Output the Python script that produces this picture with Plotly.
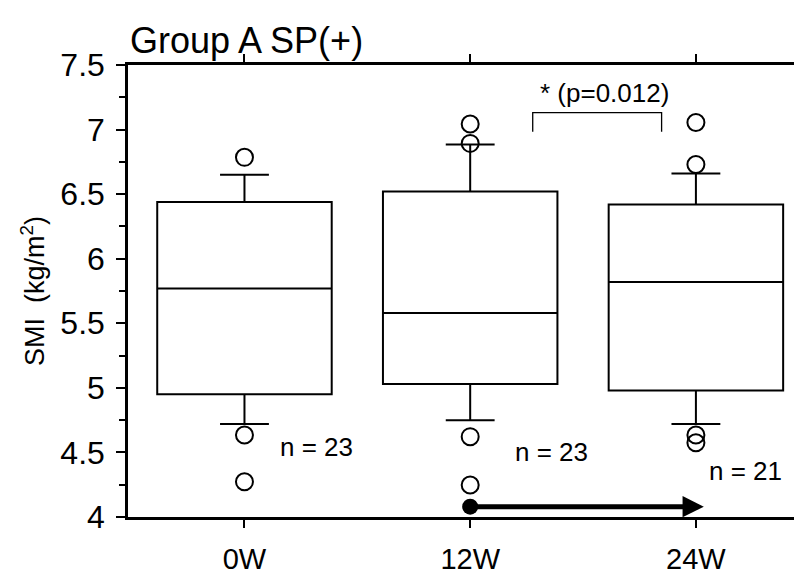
import plotly.graph_objects as go

categories = ["0W", "12W", "24W"]
q1 = [4.95, 5.03, 4.98]
median = [5.77, 5.58, 5.82]
q3 = [6.44, 6.52, 6.42]
lower_whisker = [4.72, 4.75, 4.72]
upper_whisker = [6.65, 6.885, 6.66]
outliers = {
    "0W": [6.785, 4.635, 4.273],
    "12W": [7.043, 6.893, 4.622, 4.248],
    "24W": [7.055, 6.73, 4.635, 4.575],
}
n_labels = ["n = 23", "n = 23", "n = 21"]
n_label_y = [4.54, 4.50, 4.36]
arrow_from, arrow_to, arrow_level = "12W", "24W", 4.08
sig_text = "* (p=0.012)"

FONT = "Liberation Sans, Arial, sans-serif"
xpos = {c: i for i, c in enumerate(categories)}

# page body has an 8px default margin; size the figure to fit the window
W, H = 794, 572

fig = go.Figure()
fig.add_trace(go.Box(
    x=[xpos[c] for c in categories],
    q1=q1, median=median, q3=q3,
    lowerfence=lower_whisker, upperfence=upper_whisker,
    width=0.773, whiskerwidth=0.28,
    fillcolor="white", line=dict(color="black", width=2),
    boxpoints=False, showlegend=False, hoverinfo="skip",
))
ox, oy = [], []
for c in categories:
    for v in outliers[c]:
        ox.append(xpos[c]); oy.append(v)
fig.add_trace(go.Scatter(
    x=ox, y=oy, mode="markers",
    marker=dict(symbol="circle-open", size=17, color="black", line=dict(width=2)),
    showlegend=False, hoverinfo="skip",
))
fig.add_trace(go.Scatter(
    x=[xpos[arrow_from]], y=[arrow_level], mode="markers",
    marker=dict(symbol="circle", size=16, color="black"),
    showlegend=False, hoverinfo="skip",
))

annotations = []
offsets = [0.32, 0.36, 0.22]
for i, c in enumerate(categories):
    annotations.append(dict(x=xpos[c] + offsets[i], y=n_label_y[i], text=n_labels[i],
                            showarrow=False, xref="x", yref="y",
                            font=dict(size=26, color="black", family=FONT)))
annotations.append(dict(x=xpos[arrow_to] + 0.035, y=arrow_level, ax=xpos[arrow_from], ay=arrow_level,
                        xref="x", yref="y", axref="x", ayref="y", showarrow=True,
                        arrowhead=2, arrowsize=0.85, arrowwidth=5, arrowcolor="black", text=" ",
                        font=dict(size=10)))
annotations.append(dict(x=1.595, y=7.28, text=sig_text, showarrow=False, xref="x", yref="y",
                        font=dict(size=26, color="black", family=FONT)))

fig.add_shape(type="path", path="M 1.277 6.984 L 1.277 7.131 L 1.848 7.131 L 1.848 6.984",
              xref="x", yref="y", line=dict(color="black", width=1.3))

fig.update_layout(
    width=W, height=H,
    margin=dict(l=120, r=0, t=57, b=63, autoexpand=False),
    paper_bgcolor="white", plot_bgcolor="white",
    font=dict(family=FONT, color="black"),
    title=dict(text="Group A SP(+)", x=122/W, xanchor="left", xref="container",
               y=1 - 32/H, yanchor="middle", yref="container",
               font=dict(size=36, color="black", family=FONT)),
    annotations=annotations,
    xaxis=dict(range=[-0.516, 2.47], tickvals=[0, 1, 2], ticktext=categories,
               showline=True, linecolor="black", linewidth=2.5, mirror="ticks",
               ticks="outside", ticklen=8, tickwidth=2, tickcolor="black", automargin=False,
               ticklabelstandoff=6,
               showgrid=False, zeroline=False, tickfont=dict(size=29, family=FONT)),
    yaxis=dict(range=[4, 7.5], dtick=0.5, tick0=4, automargin=False,
               showline=True, linecolor="black", linewidth=2.5,
               ticks="outside", ticklen=9, tickwidth=2, tickcolor="black", ticklabelstandoff=5,
               minor=dict(dtick=0.25, ticks="outside", ticklen=6, tickwidth=2, tickcolor="black"),
               showgrid=False, zeroline=False, tickfont=dict(size=32, family=FONT),
               title=dict(text="SMI  (kg/m<sup>2</sup>)", font=dict(size=27, family=FONT), standoff=8)),
)
fig.write_html("out.html")
